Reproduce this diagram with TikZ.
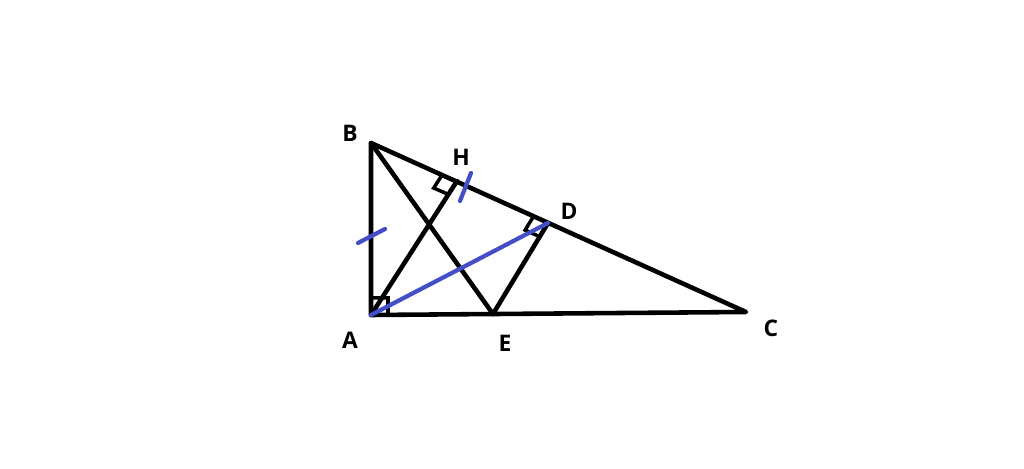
\documentclass[tikz,border=0pt]{standalone}
\usepackage{fontspec}
\setmainfont{Open Sans}
\usetikzlibrary{calc}
\definecolor{tickblue}{RGB}{68,78,200}

\begin{document}
\begin{tikzpicture}[x=0.02cm,y=-0.02cm]
		\tikzstyle {side} = [line width=2.6pt, line join=round, line cap=round]
		\tikzstyle {rightang} = [line width=2pt]
		\tikzstyle {blueline} = [line width=2.4pt, tickblue, line cap=round]
		\tikzstyle {lbl} = [font=\bfseries\fontsize{13}{15}\selectfont]

		\useasboundingbox (0,0) rectangle (1024,469);

		\coordinate (A) at (371,315);
		\coordinate (B) at (371,143);
		\coordinate (C) at (746,312);
		\coordinate (H) at (457,181);
		\coordinate (D) at (548,223);
		\coordinate (E) at (493,314);

		% right angle marks
		\coordinate (a1) at ($(A)!0.34cm!(B)$);
		\coordinate (a2) at ($(A)!0.34cm!(C)$);
		\draw[rightang] (a1) -- ($(a1)+(a2)-(A)$) -- (a2);
		\coordinate (h1) at ($(H)!0.32cm!(B)$);
		\coordinate (h2) at ($(H)!0.32cm!(A)$);
		\draw[rightang] (h1) -- ($(h1)+(h2)-(H)$) -- (h2);
		\coordinate (d1) at ($(D)!0.32cm!(B)$);
		\coordinate (d2) at ($(D)!0.32cm!(E)$);
		\draw[rightang] (d1) -- ($(d1)+(d2)-(D)$) -- (d2);

		% triangle and inner lines
		\draw[side] (A) -- (B) -- (C) -- cycle;
		\draw[side] (A) -- (H);
		\draw[side] (B) -- (E);
		\draw[side] (D) -- (E);

		% blue segment and ticks
		\draw[blueline] (A) -- (D);
		\coordinate (t1) at (358,243);
		\coordinate (t2) at (385,229);
		\draw[blueline] (t1) -- (t2);
		\coordinate (t3) at (460,201);
		\coordinate (t4) at (471,173);
		\draw[blueline] (t3) -- (t4);

		% labels
		\node[lbl] (lA) at (350,340) {A};
		\node[lbl] (lB) at (350,133) {B};
		\node[lbl] (lC) at (771,328) {C};
		\node[lbl] (lD) at (569,211) {D};
		\node[lbl] (lE) at (505,343) {E};
		\node[lbl] (lH) at (461,157) {H};
	\end{tikzpicture}
\end{document}
